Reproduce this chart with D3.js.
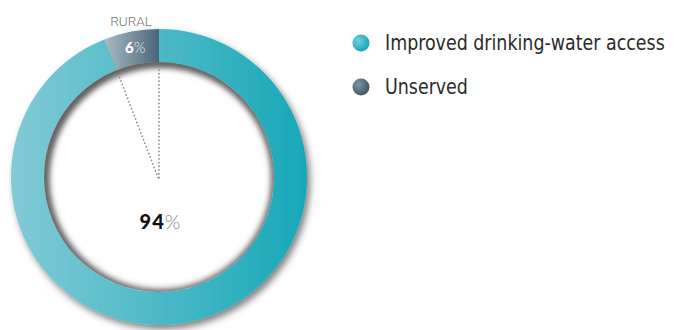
<!DOCTYPE html>
<html>
<head>
<meta charset="utf-8">
<script src="https://cdn.jsdelivr.net/npm/d3@7"></script>
<style>
  body { margin: 0; background: #fff; }
  svg { display: block; }
</style>
</head>
<body>
<svg id="chart"></svg>
<script>
const width = 678;
const height = 330;

// data
const categories = ["Unserved", "Improved drinking-water access"];
const values = [6, 94];
const legendLabels = ["Improved drinking-water access", "Unserved"];
const areaLabel = "RURAL";

const cx = 159, cy = 177;
const outerR = 148, innerR = 115;

const svg = d3.select("#chart")
    .attr("width", width)
    .attr("height", height);

const defs = svg.append("defs");

// ring gradient, light on the left, deeper teal on the right
// (coords are local to the translated ring group)
const gImp = defs.append("linearGradient")
    .attr("id", "gradImproved")
    .attr("gradientUnits", "userSpaceOnUse")
    .attr("x1", -outerR).attr("x2", outerR)
    .attr("y1", 0).attr("y2", 0);
gImp.append("stop").attr("offset", "0%").attr("stop-color", "#82cad6");
gImp.append("stop").attr("offset", "100%").attr("stop-color", "#17a8b8");

const gUns = defs.append("linearGradient")
    .attr("id", "gradUnserved")
    .attr("gradientUnits", "userSpaceOnUse")
    .attr("x1", -55).attr("x2", 0)
    .attr("y1", 0).attr("y2", 0);
gUns.append("stop").attr("offset", "0%").attr("stop-color", "#a9bcc5");
gUns.append("stop").attr("offset", "100%").attr("stop-color", "#4a6577");

// legend dots
const gDot1 = defs.append("radialGradient").attr("id", "dotImproved")
    .attr("cx", "35%").attr("cy", "35%").attr("r", "70%");
gDot1.append("stop").attr("offset", "0%").attr("stop-color", "#6fd0dc");
gDot1.append("stop").attr("offset", "100%").attr("stop-color", "#1aa2b3");
const gDot2 = defs.append("radialGradient").attr("id", "dotUnserved")
    .attr("cx", "35%").attr("cy", "35%").attr("r", "70%");
gDot2.append("stop").attr("offset", "0%").attr("stop-color", "#7d95a3");
gDot2.append("stop").attr("offset", "100%").attr("stop-color", "#3d5565");

const shadow = defs.append("filter").attr("id", "drop")
    .attr("x", "-20%").attr("y", "-20%").attr("width", "140%").attr("height", "140%");
shadow.append("feDropShadow")
    .attr("dx", 3).attr("dy", 4).attr("stdDeviation", 3.5)
    .attr("flood-color", "#000").attr("flood-opacity", 0.5);

const blur = defs.append("filter").attr("id", "blur")
    .attr("x", "-20%").attr("y", "-20%").attr("width", "140%").attr("height", "140%");
blur.append("feGaussianBlur").attr("stdDeviation", 3);

defs.append("clipPath").attr("id", "hole")
    .append("circle").attr("cx", cx).attr("cy", cy).attr("r", innerR);

const colorOf = d3.scaleOrdinal()
    .domain(categories)
    .range(["url(#gradUnserved)", "url(#gradImproved)"]);

// unserved slice ends at 12 o'clock, improved runs clockwise from there
const start = -values[0] / d3.sum(values) * 2 * Math.PI;
const pie = d3.pie()
    .sort(null)
    .value(d => d.value)
    .startAngle(start)
    .endAngle(start + 2 * Math.PI);

const data = categories.map((c, i) => ({ name: c, value: values[i] }));
const arcs = pie(data);

const arc = d3.arc().innerRadius(innerR).outerRadius(outerR);

const ring = svg.append("g")
    .attr("transform", `translate(${cx},${cy})`)
    .attr("filter", "url(#drop)");

ring.selectAll("path")
    .data(arcs)
    .join("path")
    .attr("d", arc)
    .attr("fill", d => colorOf(d.data.name));

// inner shadow on the edge of the hole
svg.append("g")
    .attr("clip-path", "url(#hole)")
    .append("circle")
    .attr("cx", cx + 1).attr("cy", cy + 1)
    .attr("r", innerR)
    .attr("fill", "none")
    .attr("stroke", "#555")
    .attr("stroke-width", 7)
    .attr("filter", "url(#blur)");

// dotted guides from the centre to the slice edges
const guideR = innerR - 8;
const centreY = cy + 3;
[arcs[0].startAngle, arcs[0].endAngle].forEach(a => {
    svg.append("line")
        .attr("x1", cx + guideR * Math.sin(a))
        .attr("y1", cy - guideR * Math.cos(a))
        .attr("x2", cx)
        .attr("y2", centreY)
        .attr("stroke", "#888")
        .attr("stroke-width", 1.7)
        .attr("stroke-dasharray", "0.1 3.6")
        .attr("stroke-linecap", "round");
});

// labels
const midA = (arcs[0].startAngle + arcs[0].endAngle) / 2;
const lr = (innerR + outerR) / 2 + 1;
const t6 = svg.append("text")
    .attr("x", cx + lr * Math.sin(midA) + 1)
    .attr("y", 53)
    .attr("text-anchor", "middle")
    .attr("font-family", "Lato, 'Open Sans', sans-serif")
    .attr("font-size", 15)
    .attr("fill", "#fff");
t6.append("tspan").attr("font-weight", 900).text(values[0]);
t6.append("tspan").attr("font-weight", 300).attr("fill", "#e4ecef").text("%");

svg.append("text")
    .attr("x", 131)
    .attr("y", 26)
    .attr("text-anchor", "middle")
    .attr("font-family", "Roboto, 'Open Sans', sans-serif")
    .attr("font-weight", 300)
    .attr("font-size", 13.5)
    .attr("fill", "#777")
    .text(areaLabel);

const t94 = svg.append("text")
    .attr("x", cx + 1)
    .attr("y", 229)
    .attr("text-anchor", "middle")
    .attr("font-family", "Lato, 'Open Sans', sans-serif")
    .attr("font-size", 20);
t94.append("tspan").attr("font-weight", 900).attr("fill", "#111").attr("letter-spacing", 1).text(values[1]);
t94.append("tspan").attr("font-weight", 300).attr("fill", "#888").text("%");

// legend
const legendY = d3.scalePoint().domain(legendLabels).range([43, 87]);
const legend = svg.append("g");
legend.selectAll("circle")
    .data(legendLabels)
    .join("circle")
    .attr("cx", 361)
    .attr("cy", d => legendY(d))
    .attr("r", 8.5)
    .attr("fill", (d, i) => i === 0 ? "url(#dotImproved)" : "url(#dotUnserved)");

const legendText = legend.selectAll("text")
    .data(legendLabels)
    .join("text")
    .attr("x", 0)
    .attr("y", 0)
    .attr("font-family", "'DejaVu Sans Condensed', 'Liberation Sans Narrow', sans-serif")
    .attr("font-size", 21)
    .attr("fill", "#2b2b2b")
    .text(d => d);

// squeeze to the condensed look of the original (first label ~280px wide)
const natural = legendText.node().getComputedTextLength();
const sx = 280 / natural;
legendText.attr("transform", d => `translate(385,${legendY(d) + 7}) scale(${sx},1.05)`);
</script>
</body>
</html>
